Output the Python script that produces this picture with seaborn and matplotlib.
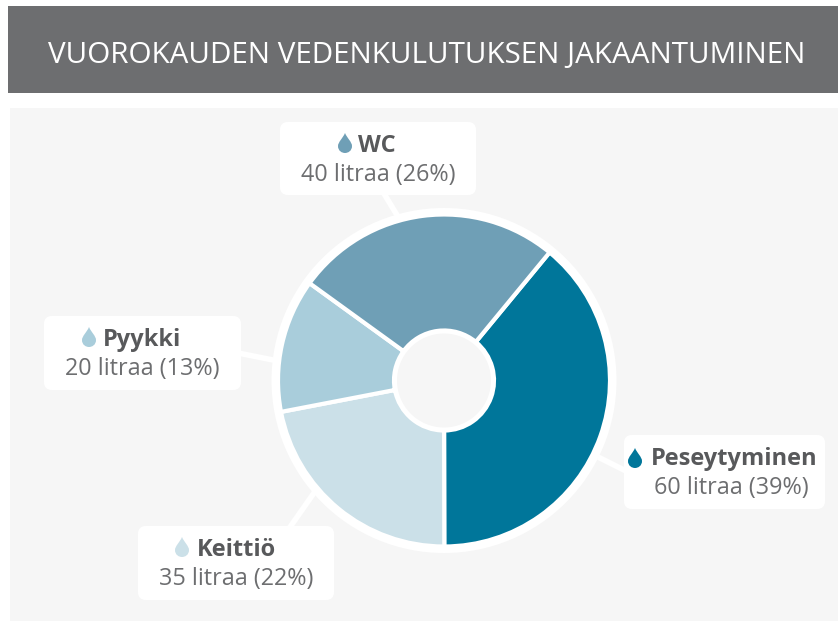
import matplotlib.pyplot as plt
import seaborn as sns
from matplotlib.patches import Rectangle, FancyBboxPatch, Circle, PathPatch
from matplotlib.path import Path

# Data
title = "VUOROKAUDEN VEDENKULUTUKSEN JAKAANTUMINEN"
categories = ["Peseytyminen", "Keittiö", "Pyykki", "WC"]
litres = [60, 35, 20, 40]
percents = [39, 22, 13, 26]
colors = ["#00769a", "#cbe0e8", "#a9cddb", "#6f9fb6"]

# Layout in reference pixels: box x0, y0, x1, y1
boxes = [(624, 435, 825, 509), (138, 526, 334, 600), (44, 316, 241, 390), (280, 122, 476, 195)]
drops = [(635, 458), (182, 547), (89, 337), (345, 143)]
head_x = [734, 236, 142, 377]
line_x = [731, 236, 142, 378]
links = [((598, 457), (630, 473)), ((288, 530), (316, 490)), ((238, 353), (278, 361)), ((383, 192), (400, 220))]

sns.set_theme(style="white")
plt.rcParams["font.family"] = ["Open Sans", "DejaVu Sans"]

fig = plt.figure(figsize=(8.38, 6.21), dpi=100)
ax = fig.add_axes([0, 0, 1, 1])
ax.set_xlim(0, 838)
ax.set_ylim(621, 0)
ax.axis("off")

panel = "#f6f6f6"
ax.add_patch(Rectangle((8, 6), 830, 87, color="#6d6e70", lw=0, zorder=1))
ax.add_patch(Rectangle((10, 108), 828, 513, color=panel, lw=0, zorder=1))
ax.text(427, 56, title, color="white", fontsize=21.3, ha="center", va="center", zorder=5)

for (a, b) in links:
    ax.plot([a[0], b[0]], [a[1], b[1]], color="white", lw=4, solid_capstyle="butt", zorder=2)

cx, cy = 444, 380.5
ax.add_patch(Circle((cx, cy), 172.5, color="white", lw=0, zorder=2))
# y axis is inverted, so counterclock here runs clockwise on screen
wedges, _ = ax.pie(percents, colors=colors, startangle=-50.5, counterclock=True, center=(cx, cy),
                   radius=166, frame=True, wedgeprops=dict(width=116, edgecolor="white", linewidth=3))
for w in wedges:
    w.set_zorder(3)
ax.add_patch(Circle((cx, cy), 47, color=panel, lw=0, zorder=4))
ax.set_xlim(0, 838)
ax.set_ylim(621, 0)
ax.set_aspect("auto")
ax.axis("off")

# the drop tip points up on screen
drop_verts = [(0, -10), (-2, -5), (-7, -1), (-7, 3), (-7, 8), (-3, 10), (0, 10), (3, 10), (7, 8), (7, 3), (7, -1), (2, -5), (0, -10)]
drop_codes = [Path.MOVETO] + [Path.CURVE4] * 12

for i, cat in enumerate(categories):
    x0, y0, x1, y1 = boxes[i]
    ax.add_patch(FancyBboxPatch((x0 + 8, y0 + 8), x1 - x0 - 16, y1 - y0 - 16,
                                boxstyle="round,pad=8,rounding_size=8", fc="white", ec="none", zorder=4))
    dx, dy = drops[i]
    ax.add_patch(PathPatch(Path([(dx + vx, dy + vy) for vx, vy in drop_verts], drop_codes),
                           fc=colors[i], ec="none", zorder=5))
    ax.text(head_x[i], y0 + 24, cat, color="#58595b", fontsize=17, fontweight="bold", ha="center", va="center", zorder=5)
    ax.text(line_x[i], y0 + 53, f"{litres[i]} litraa ({percents[i]}%)", color="#6d6e70", fontsize=16.8, ha="center", va="center", zorder=5)

fig.savefig("out.png", dpi=100)
